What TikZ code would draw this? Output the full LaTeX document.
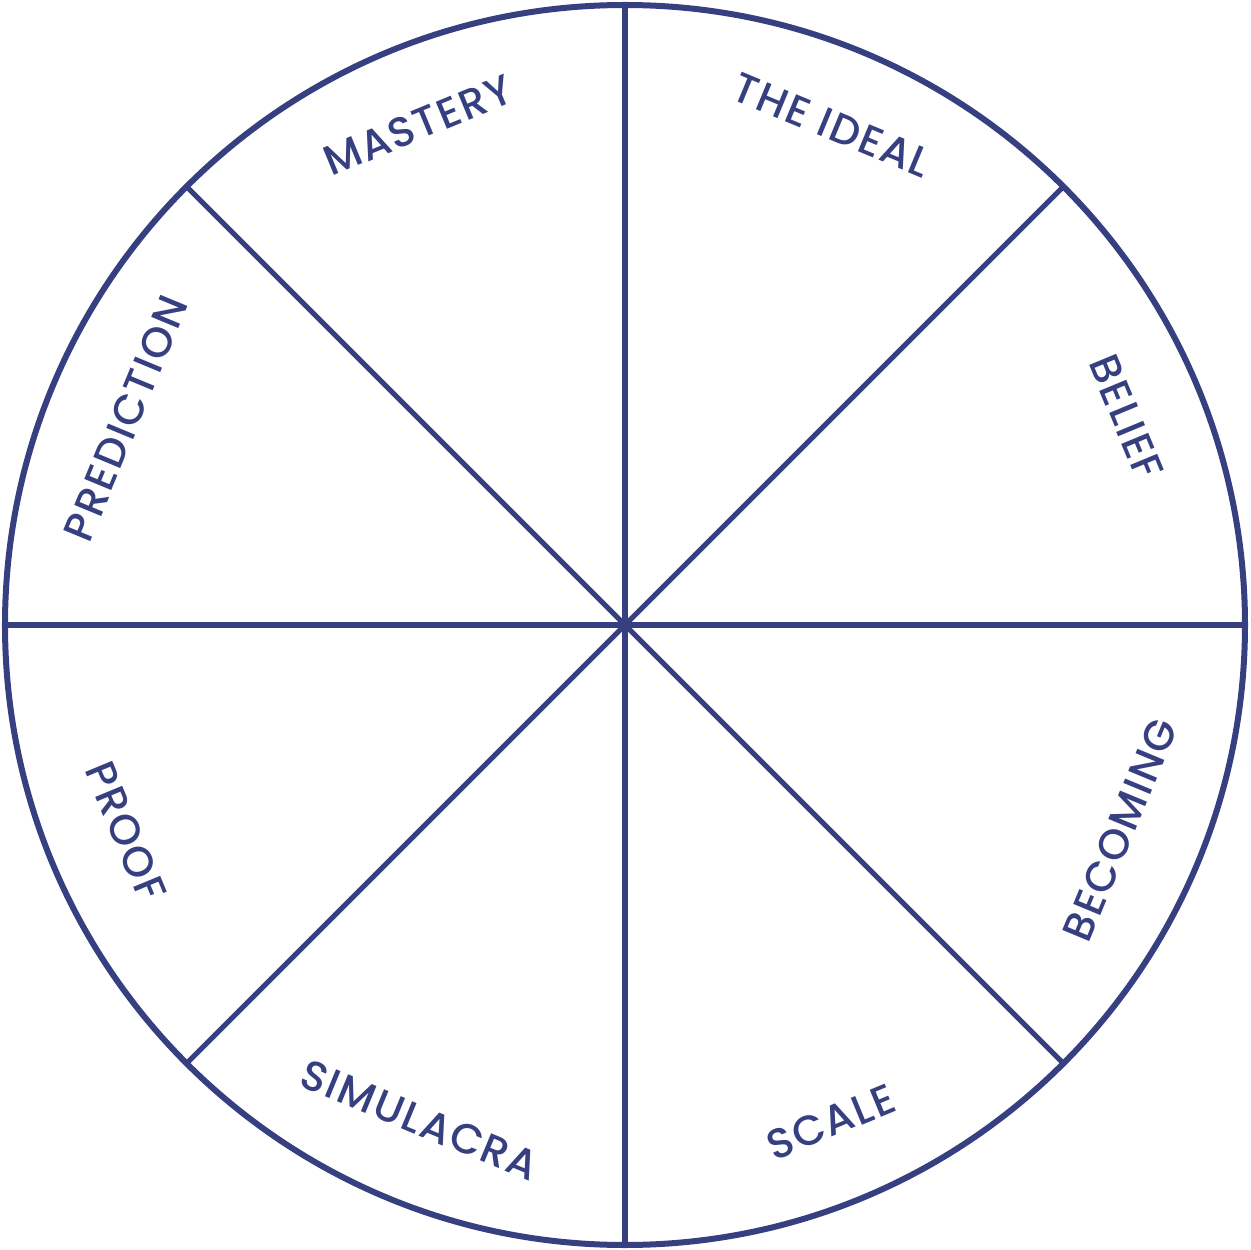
\documentclass[tikz,border=0pt]{standalone}
\usepackage{fontspec}
\newfontfamily\labfont[LetterSpace=4,UprightFont=* Medium]{Poppins}
\definecolor{ink}{RGB}{54,64,128}
\begin{document}
\begin{tikzpicture}[x=1pt,y=1pt,
  rim/.style={draw=ink, line width=6pt},
  spoke/.style={draw=ink, line width=5pt},
  lab/.style={text=ink, font=\labfont\fontsize{42}{50}\selectfont, inner sep=0pt}]
\useasboundingbox (-625,-625) rectangle (625,625);
\coordinate (O) at (0,0);
\foreach \a in {0,45,...,315} {\coordinate (p\a) at (\a:620);}
\foreach \a in {0,45,...,315} {\draw[spoke] (O) -- (p\a);}
\draw[rim] (O) circle (620);
\node[lab, rotate=22.5]  (mastery)    at (112.5:541) {MASTERY};
\node[lab, rotate=-22.5] (ideal)      at (67.5:541)  {THE IDEAL};
\node[lab, rotate=-67.5] (belief)     at (22.5:543)  {BELIEF};
\node[lab, rotate=67.5]  (becoming)   at (-22.5:536) {BECOMING};
\node[lab, rotate=22.5]  (scale)      at (-67.5:538) {SCALE};
\node[lab, rotate=-22.5] (simulacra)  at (-112.5:536) {SIMULACRA};
\node[lab, rotate=-67.5] (proof)      at (-157.5:540) {PROOF};
\node[lab, rotate=67.5]  (prediction) at (157.5:540) {PREDICTION};
\end{tikzpicture}
\end{document}
